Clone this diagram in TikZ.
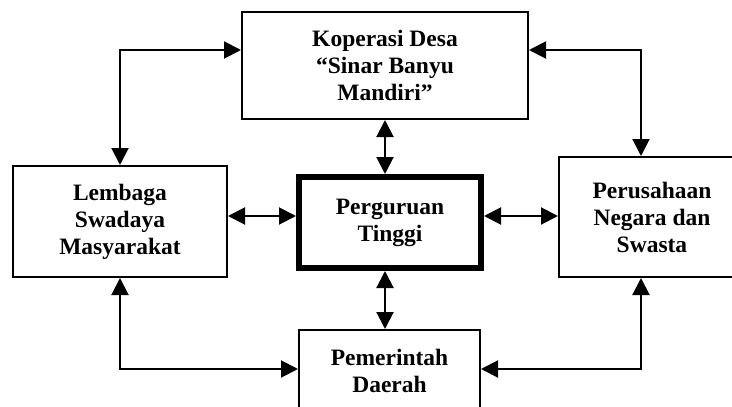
\documentclass[tikz,border=0pt]{standalone}
\usepackage{fontspec}
\setmainfont{Liberation Serif}
\usetikzlibrary{arrows.meta}
\tikzset{
  box/.style={draw, line width=2pt, inner sep=0pt, align=center,
    font={\fontsize{23.5}{27}\selectfont\bfseries}},
  mainbox/.style={box, line width=6pt},
  link/.style={line width=2pt, {Triangle[length=17pt,width=17pt]}-{Triangle[length=17pt,width=17pt]}}
}
\begin{document}
\begin{tikzpicture}[x=1pt,y=-1pt]
\clip (0,0) rectangle (732,407);
\fill[white] (0,0) rectangle (732,407);
\node[box, minimum width=286pt, minimum height=107pt] (kop) at (385,65.5) {Koperasi Desa\\“Sinar Banyu\\Mandiri”};
\node[box, minimum width=214pt, minimum height=111pt] (lem) at (120,221.5) {Lembaga\\Swadaya\\Masyarakat};
\node[mainbox, minimum width=182pt, minimum height=91pt] (per) at (390,222.5) {Perguruan\\Tinggi};
\node[box, minimum width=186pt, minimum height=120pt] (pers) at (652,217) {Perusahaan\\Negara dan\\Swasta};
\node[box, minimum width=181pt, minimum height=82pt] (pem) at (389.5,371) {Pemerintah\\Daerah};
\coordinate (c1) at (120,50);
\coordinate (c2) at (641,50);
\coordinate (h1) at (0,216);
\coordinate (c4) at (120,369);
\coordinate (c5) at (641,369);
\draw[link] (kop.west |- c1) -- (c1) -- (lem.north);
\draw[link] (kop.east |- c2) -- (c2) -- (c2 |- pers.north);
\draw[link] (kop.south) -- (kop.south |- per.north);
\draw[link] (lem.east |- h1) -- (per.west |- h1);
\draw[link] (per.east |- h1) -- (pers.west |- h1);
\draw[link] (per.south -| kop.south) -- (pem.north -| kop.south);
\draw[link] (lem.south) -- (c4) -- (pem.west |- c4);
\draw[link] (c2 |- pers.south) -- (c5) -- (pem.east |- c5);
\end{tikzpicture}
\end{document}
